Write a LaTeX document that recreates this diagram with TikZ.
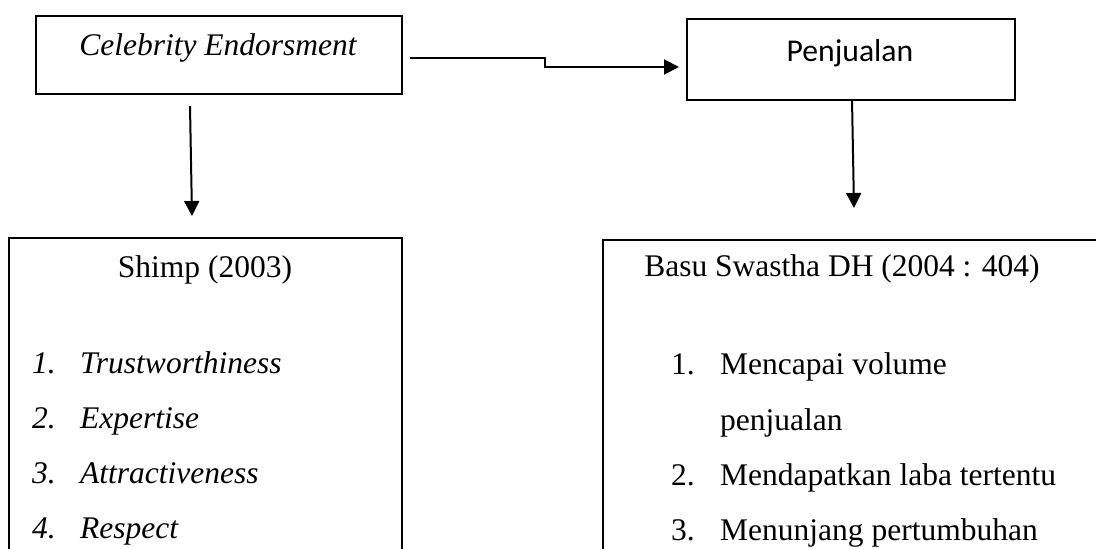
\documentclass[tikz,border=0pt]{standalone}
\usepackage{fontspec}
\setmainfont{Liberation Serif}
\newfontfamily\calibfont{Carlito}
\usetikzlibrary{arrows.meta}
\begin{document}
\begin{tikzpicture}[x=1pt,y=-1pt,
  boxline/.style={draw=black, line width=2.2pt, rectangle, inner sep=0pt, anchor=north west},
  txt/.style={inner sep=0pt, anchor=base west, font=\fontsize{31.5}{38}\selectfont},
  itxt/.style={txt, font=\fontsize{31.5}{38}\selectfont\itshape},
  conn/.style={line width=2pt},
  arr/.style={conn, -{Triangle[length=15pt,width=15pt]}}]
\useasboundingbox (0,0) rectangle (1096,549);
\fill[white] (0,0) rectangle (1096,549);
% boxes
\node[boxline, minimum width=366pt, minimum height=78pt] (ce) at (35,15) {};
\node[boxline, minimum width=328pt, minimum height=81pt] (pj) at (686,18) {};
\node[boxline, minimum width=393pt, minimum height=360pt] (shimp) at (8,237) {};
\node[boxline, minimum width=520pt, minimum height=360pt] (basu) at (602,239) {};
% titles
\node[itxt, anchor=base] (cet) at (218,55) {Celebrity Endorsment};
\node[txt, anchor=base, font=\fontsize{31.7}{38}\calibfont] (pjt) at (850,61) {Penjualan};
\node[txt, anchor=base] (sht) at (205,277) {Shimp (2003)};
\node[txt, anchor=base] (bst) at (842,276) {Basu Swastha DH (2004 : 404)};
% left list
\node[itxt] (n1) at (32,373) {1.};
\node[itxt] (l1) at (80,373) {Trustworthiness};
\node[itxt] (n2) at (32,428) {2.};
\node[itxt] (l2) at (80,428) {Expertise};
\node[itxt] (n3) at (32,483) {3.};
\node[itxt] (l3) at (80,483) {Attractiveness};
\node[itxt] (n4) at (32,538) {4.};
\node[itxt] (l4) at (80,538) {Respect};
% right list
\node[txt] (m1) at (671,374) {1.};
\node[txt] (r1) at (720,374) {Mencapai volume};
\node[txt] (r1b) at (720,430) {penjualan};
\node[txt] (m2) at (671,485) {2.};
\node[txt] (r2) at (720,485) {Mendapatkan laba tertentu};
\node[txt] (m3) at (671,540) {3.};
\node[txt] (r3) at (720,540) {Menunjang pertumbuhan};
% connectors
\coordinate (c0) at (410,58);
\coordinate (c1) at (545,58);
\coordinate (c2) at (545,67);
\coordinate (c3) at (679,67);
\draw[arr] (c0) -- (c1) -- (c2) -- (c3);
\coordinate (a1s) at (190,106);
\coordinate (a1e) at (192,216);
\draw[arr] (a1s) -- (a1e);
\coordinate (a2s) at (852,99);
\coordinate (a2e) at (854,208);
\draw[arr] (a2s) -- (a2e);
\end{tikzpicture}
\end{document}
